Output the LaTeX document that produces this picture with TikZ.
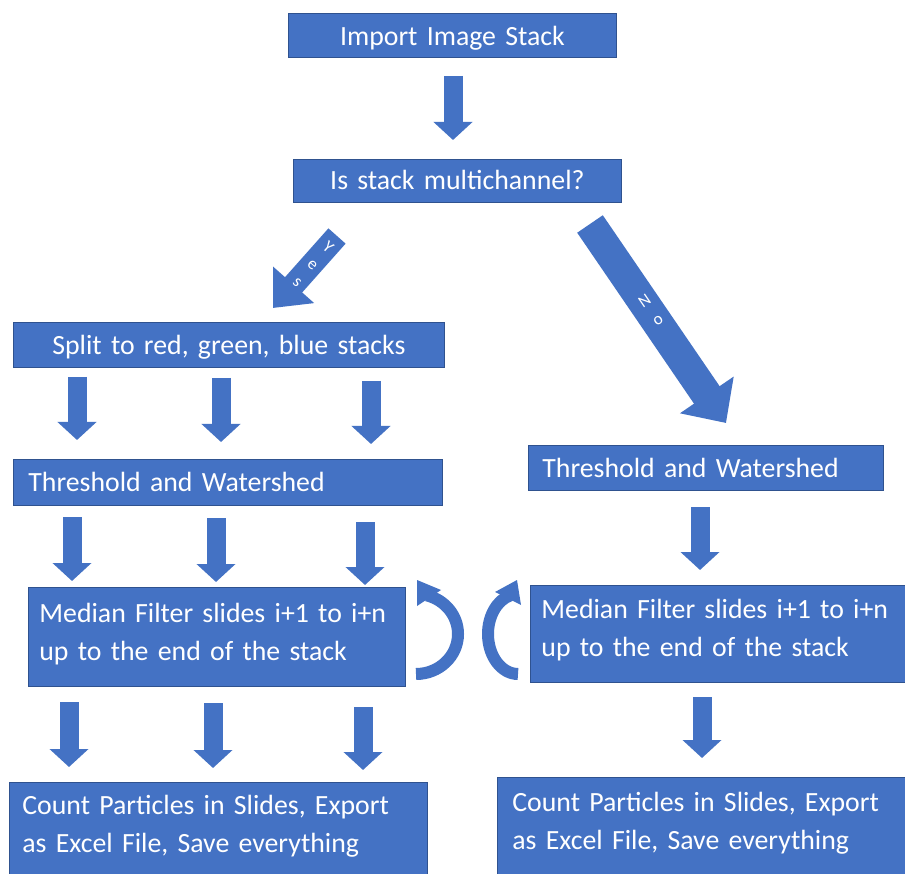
\documentclass[tikz,border=0pt]{standalone}
\usepackage{fontspec}
\setmainfont{Carlito}
\usetikzlibrary{arrows.meta}
\definecolor{boxblue}{HTML}{4472C4}
\definecolor{edgeblue}{HTML}{2F528F}
\begin{document}
\begin{tikzpicture}[x=1pt,y=-1pt,
  box/.style={draw=edgeblue, line width=0.8pt, fill=boxblue, text=white, anchor=north west,
    inner ysep=0pt, font=\fontsize{27.8}{38}\selectfont},
  cbox/.style={box, align=center, inner xsep=0pt},
  lbox/.style={box, align=left},
  fat/.style={draw=boxblue, line width=19pt, -{Triangle[width=38pt,length=18pt]}},
  curv/.style={draw=boxblue, line width=12pt},
  curvhead/.style={fill=boxblue},
  lab/.style={text=white, align=center, font=\fontsize{17}{23}\selectfont, inner sep=0pt}
]
\clip (0,0) rectangle (905,874);
\fill[white] (0,0) rectangle (905,874);

% boxes
\node[cbox, text width=328pt, text height=32pt, text depth=12pt] (imp) at (288,13) {Import Image Stack};
\node[cbox, text width=328pt, text height=30pt, text depth=13pt] (multi) at (293,159) {Is stack multichannel?};
\node[cbox, text width=431pt, text height=32pt, text depth=13pt] (split) at (13,322) {Split to red, green, blue stacks};
\node[lbox, text width=399pt, inner xsep=15pt, text height=32pt, text depth=14pt] (thrL) at (13,459) {Threshold and Watershed};
\node[lbox, text width=359pt, inner xsep=9pt, text height=35pt, text depth=64pt] (medL) at (28,587) {\hspace*{2pt}Median Filter slides i+1 to i+n\\\hspace*{2pt}up to the end of the stack};
\node[lbox, text width=392pt, inner xsep=13pt, text height=32pt, text depth=100pt] (cntL) at (9,782) {Count Particles in Slides, Export\\as Excel File, Save everything};
\node[lbox, text width=327pt, inner xsep=14pt, text height=32pt, text depth=13pt] (thrR) at (528,445) {Threshold and Watershed};
\node[lbox, text width=378pt, inner xsep=11pt, text height=33pt, text depth=64pt] (medR) at (530,585) {Median Filter slides i+1 to i+n\\up to the end of the stack};
\node[lbox, text width=380pt, inner xsep=15pt, text height=34pt, text depth=100pt] (cntR) at (497,777) {Count Particles in Slides, Export\\as Excel File, Save everything};

% arrow end points
\coordinate (a0s) at (453,76);  \coordinate (a0e) at (453,140);
\coordinate (s1s) at (77,377);  \coordinate (s1e) at (77,440);
\coordinate (s2s) at (221,378); \coordinate (s2e) at (221,442);
\coordinate (s3s) at (371,381); \coordinate (s3e) at (371,444);
\coordinate (t1s) at (72,517);  \coordinate (t1e) at (72,581);
\coordinate (t2s) at (216,518); \coordinate (t2e) at (216,582);
\coordinate (t3s) at (365,522); \coordinate (t3e) at (365,585);
\coordinate (m1s) at (69,702);  \coordinate (m1e) at (69,767);
\coordinate (m2s) at (213,703); \coordinate (m2e) at (213,768);
\coordinate (m3s) at (363,707); \coordinate (m3e) at (363,770);
\coordinate (r1s) at (700,507); \coordinate (r1e) at (700,570);
\coordinate (r2s) at (702,697); \coordinate (r2e) at (702,758);
\coordinate (ys) at (337,236);  \coordinate (ye) at (273,308);
\coordinate (ns) at (590,224);  \coordinate (ne) at (726,423);

\draw[fat] (a0s) -- (a0e);
\draw[fat] (s1s) -- (s1e);
\draw[fat] (s2s) -- (s2e);
\draw[fat] (s3s) -- (s3e);
\draw[fat] (t1s) -- (t1e);
\draw[fat] (t2s) -- (t2e);
\draw[fat] (t3s) -- (t3e);
\draw[fat] (m1s) -- (m1e);
\draw[fat] (m2s) -- (m2e);
\draw[fat] (m3s) -- (m3e);
\draw[fat] (r1s) -- (r1e);
\draw[fat] (r2s) -- (r2e);
\draw[draw=boxblue, line width=23pt, -{Triangle[width=53pt,length=31pt]}] (ys) -- (ye);
\draw[draw=boxblue, line width=31pt, -{Triangle[width=63pt,length=34pt]}] (ns) -- (ne);

% loop arrows (left ")" and right "(")
\coordinate (cLs) at (416,674);
\coordinate (cLtip) at (417,580);
\coordinate (cLb1) at (441,590);
\coordinate (cLb2) at (417,606);
\draw[curv] (cLs) arc[start angle=90, end angle=-75, x radius=42, y radius=40];
\fill[curvhead] (cLtip) -- (cLb1) -- (cLb2) -- cycle;

\coordinate (cRs) at (518,674);
\coordinate (cRtip) at (517,580);
\coordinate (cRb1) at (521,605);
\coordinate (cRb2) at (495,592);
\draw[curv] (cRs) arc[start angle=90, end angle=255, x radius=30, y radius=40];
\fill[curvhead] (cRtip) -- (cRb1) -- (cRb2) -- cycle;

% labels on diagonal arrows
\node[lab, rotate=-41.3] (yes) at (313,264) {Y\\e\\s};
\node[lab, rotate=34.4] (no) at (651,310) {N\\o};
\end{tikzpicture}
\end{document}
